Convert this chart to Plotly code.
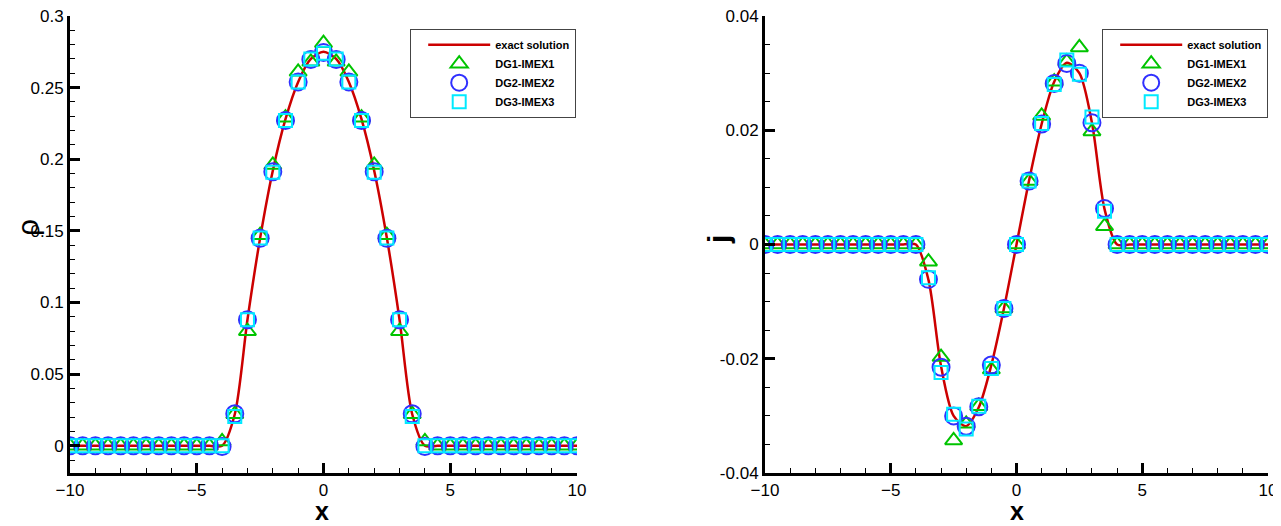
import plotly.graph_objects as go

# ---------------- data ----------------
x_grid = [-10, -9.5, -9, -8.5, -8, -7.5, -7, -6.5, -6, -5.5, -5, -4.5, -4,
          -3.5, -3, -2.5, -2, -1.5, -1, -0.5, 0, 0.5, 1, 1.5, 2, 2.5, 3, 3.5,
          4, 4.5, 5, 5.5, 6, 6.5, 7, 7.5, 8, 8.5, 9, 9.5, 10]

Z12 = [0] * 12
rho_exact = Z12 + [0, 0.022, 0.088, 0.145, 0.192, 0.228, 0.254, 0.270, 0.275,
                   0.270, 0.254, 0.228, 0.192, 0.145, 0.088, 0.022, 0] + Z12
rho_dg1 = Z12 + [0.003, 0.022, 0.080, 0.147, 0.196, 0.229, 0.261, 0.268, 0.281,
                 0.268, 0.261, 0.229, 0.196, 0.147, 0.080, 0.022, 0.003] + Z12
rho_dg2 = Z12 + [-0.0005, 0.0223, 0.088, 0.1448, 0.1913, 0.227, 0.254, 0.2697, 0.2745,
                 0.2697, 0.254, 0.227, 0.1913, 0.1448, 0.088, 0.0223, -0.0005] + Z12
rho_dg3 = Z12 + [0, 0.0205, 0.088, 0.145, 0.191, 0.227, 0.254, 0.270, 0.274,
                 0.270, 0.254, 0.227, 0.191, 0.145, 0.088, 0.0205, 0] + Z12

j_exact = Z12 + [0, -0.0062, -0.0213, -0.0300, -0.0318, -0.0285, -0.0211, -0.0112, 0,
                 0.0112, 0.0211, 0.0285, 0.0318, 0.0300, 0.0213, 0.0062, 0] + Z12
j_dg1 = Z12 + [0, -0.0030, -0.0197, -0.0343, -0.0314, -0.0283, -0.0219, -0.0112, 0,
               0.0111, 0.0225, 0.0285, 0.0320, 0.0345, 0.0198, 0.0032, 0] + Z12
j_dg2 = Z12 + [0, -0.0061, -0.0215, -0.0300, -0.0318, -0.0284, -0.0211, -0.0112, 0,
               0.0111, 0.0211, 0.0282, 0.0317, 0.0300, 0.0213, 0.0063, 0] + Z12
j_dg3 = Z12 + [0, -0.0058, -0.0224, -0.0297, -0.0323, -0.0283, -0.0217, -0.0112, 0,
               0.0111, 0.0212, 0.0280, 0.0323, 0.0298, 0.0223, 0.0058, 0] + Z12

series_names = ["exact solution", "DG1-IMEX1", "DG2-IMEX2", "DG3-IMEX3"]
x_ticks = [-10, -5, 0, 5, 10]
rho_ticks = [0, 0.05, 0.1, 0.15, 0.2, 0.25, 0.3]
rho_ticktext = ["0", "0.05", "0.1", "0.15", "0.2", "0.25", "0.3"]
j_ticks = [-0.04, -0.02, 0, 0.02, 0.04]
j_ticktext = ["-0.04", "-0.02", "0", "0.02", "0.04"]

# ---------------- styles ----------------
RED, GREEN, BLUE, CYAN = "#cc0000", "#00c400", "#3030ff", "#00eaff"
OFF = 8                      # default page body margin
W, H = 1281 - OFF, 526 - OFF
FONT = "Liberation Sans, Arial, sans-serif"


def fx(px):
    return (px - OFF) / W


def fy(py):
    return 1 - (py - OFF) / H


fig = go.Figure()


def add_panel(xa, ya, legend, exact, d1, d2, d3):
    fig.add_trace(go.Scatter(x=x_grid, y=exact, mode="lines", name=series_names[0],
                             line=dict(color=RED, width=2.5, shape="spline", smoothing=0.8),
                             xaxis=xa, yaxis=ya, legend=legend))
    fig.add_trace(go.Scatter(x=x_grid, y=d1, mode="markers", name=series_names[1],
                             marker=dict(symbol="triangle-up-open", size=15, color=GREEN,
                                         line=dict(width=2, color=GREEN)),
                             xaxis=xa, yaxis=ya, legend=legend))
    fig.add_trace(go.Scatter(x=x_grid, y=d2, mode="markers", name=series_names[2],
                             marker=dict(symbol="circle-open", size=17, color=BLUE,
                                         line=dict(width=2, color=BLUE)),
                             xaxis=xa, yaxis=ya, legend=legend))
    fig.add_trace(go.Scatter(x=x_grid, y=d3, mode="markers", name=series_names[3],
                             marker=dict(symbol="square-open", size=13, color=CYAN,
                                         line=dict(width=2, color=CYAN)),
                             xaxis=xa, yaxis=ya, legend=legend))


add_panel("x", "y", "legend", rho_exact, rho_dg1, rho_dg2, rho_dg3)
add_panel("x2", "y2", "legend2", j_exact, j_dg1, j_dg2, j_dg3)

ydom = [fy(473), fy(16)]
xdom1 = [fx(70), fx(577)]
xdom2 = [fx(765), fx(1268)]

axis_common = dict(
    showline=True, linecolor="black", linewidth=3, mirror=False,
    showgrid=False, zeroline=False,
    ticks="inside", ticklen=10, tickwidth=2.5, tickcolor="black",
    tickfont=dict(family=FONT, size=17, color="black"),
    ticklabeloverflow="allow",
    automargin=False,
)

xaxis_common = dict(axis_common, range=[-10, 10], tickvals=x_ticks,
                    minor=dict(dtick=1, ticks="inside", ticklen=5, tickwidth=1.2, tickcolor="black"))

legend_common = dict(yanchor="top", xanchor="right", y=fy(29),
                     bgcolor="white", bordercolor="#444", borderwidth=1.2,
                     font=dict(family=FONT, size=11, color="black", weight="bold"),
                     itemwidth=62, indentation=12, tracegroupgap=0)

fig.update_layout(
    width=W, height=H,
    margin=dict(l=0, r=0, t=0, b=0),
    paper_bgcolor="white", plot_bgcolor="white",
    showlegend=True,
    xaxis=dict(xaxis_common, domain=xdom1, anchor="y"),
    yaxis=dict(axis_common, domain=ydom, anchor="x", range=[-0.019, 0.3],
               tickvals=rho_ticks, ticktext=rho_ticktext,
               minor=dict(dtick=0.01, tick0=0, ticks="inside", ticklen=5, tickwidth=1.2, tickcolor="black")),
    xaxis2=dict(xaxis_common, domain=xdom2, anchor="y2"),
    yaxis2=dict(axis_common, domain=ydom, anchor="x2", range=[-0.04, 0.04],
                tickvals=j_ticks, ticktext=j_ticktext,
                minor=dict(dtick=0.005, tick0=0, ticks="inside", ticklen=5, tickwidth=1.2, tickcolor="black")),
    legend=dict(legend_common, x=fx(576)),
    legend2=dict(legend_common, x=fx(1268)),
    annotations=[
        dict(text="<b>x</b>", x=fx(322), y=0, xref="paper", yref="paper",
             showarrow=False, xanchor="center", yanchor="bottom", borderpad=0,
             font=dict(family=FONT, size=25, color="black")),
        dict(text="<b>x</b>", x=fx(1017), y=0, xref="paper", yref="paper",
             showarrow=False, xanchor="center", yanchor="bottom", borderpad=0,
             font=dict(family=FONT, size=25, color="black")),
        dict(text="ρ", x=fx(27), y=fy(228), xref="paper", yref="paper",
             showarrow=False, xanchor="center", yanchor="middle", textangle=-90,
             font=dict(family=FONT, size=30, color="black")),
        dict(text="<b>j</b>", x=fx(718), y=fy(240), xref="paper", yref="paper",
             showarrow=False, xanchor="center", yanchor="middle", textangle=-90,
             font=dict(family=FONT, size=30, color="black")),
    ],
)

fig.write_html("out.html")
